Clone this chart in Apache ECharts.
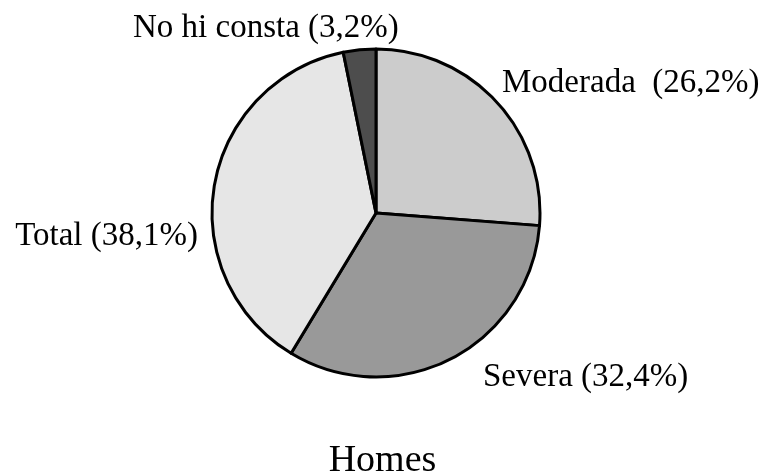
<!DOCTYPE html>
<html>
<head>
<meta charset="utf-8">
<script src="https://cdn.jsdelivr.net/npm/echarts@6/dist/echarts.min.js"></script>
<style>
  html, body { margin: 0; padding: 0; background: #fff; }
  #chart { width: 765px; height: 475px; }
</style>
</head>
<body>
<div id="chart"></div>
<script>
// categories and shares (%), clockwise from 12 o'clock
const categories = ['Moderada', 'Severa', 'Total', 'No hi consta'];
const shares = [26.2, 32.4, 38.1, 3.2];
const sliceColors = ['#cccccc', '#999999', '#e6e6e6', '#4d4d4d'];
const subtitle = 'Homes';

const chart = echarts.init(document.getElementById('chart'));

// where each label sits (x, y, align)
const labelSpots = [
  { x: 502, y: 83, align: 'left' },
  { x: 483, y: 377, align: 'left' },
  { x: 198, y: 236, align: 'right' },
  { x: 133, y: 28, align: 'left' }
];

const fmt = v => v.toFixed(1).replace('.', ',');

chart.setOption({
  animation: false,
  title: {
    text: subtitle,
    left: 'center',
    top: 437,
    textStyle: { fontFamily: 'Liberation Serif', fontSize: 38, fontWeight: 'normal', color: '#000' }
  },
  series: [{
    type: 'pie',
    center: [376, 213],
    radius: [0, 164],
    startAngle: 90,
    clockwise: true,
    minAngle: 0,
    avoidLabelOverlap: false,
    data: categories.map((name, i) => ({
      name: name,
      value: shares[i],
      itemStyle: { color: sliceColors[i] }
    })),
    itemStyle: { borderColor: '#000', borderWidth: 3 },
    emphasis: { disabled: true },
    labelLine: { show: false },
    label: {
      show: true,
      position: 'outside',
      fontFamily: 'Liberation Serif',
      fontSize: 33,
      color: '#000',
      formatter: p => p.name + (p.dataIndex === 0 ? '  ' : ' ') + '(' + fmt(p.value) + '%)'
    },
    labelLayout: p => {
      const s = labelSpots[p.dataIndex];
      return { x: s.x, y: s.y, align: s.align, verticalAlign: 'middle' };
    }
  }]
});
</script>
</body>
</html>
